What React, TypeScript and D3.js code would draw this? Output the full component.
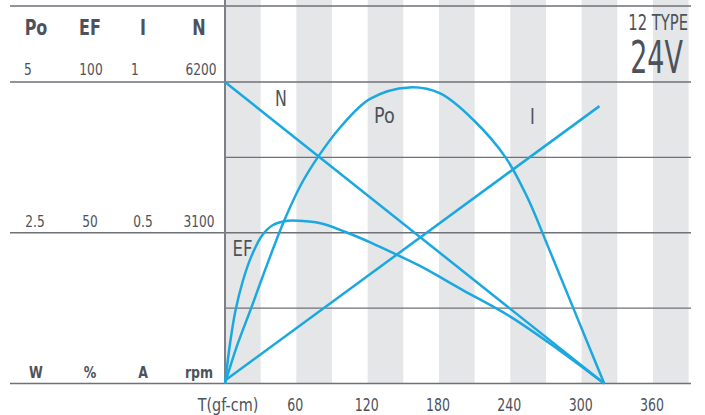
import * as d3 from "d3";
import type { ReactNode } from "react";

// torque (gf-cm) vs output power (W)
const poData: [number, number][] = [
  [0, 0], [10, 0.62], [22, 1.25], [35, 1.95], [50, 2.71], [64, 3.3], [78, 3.75],
  [97, 4.25], [122, 4.72], [155, 4.91], [181, 4.81], [209, 4.37], [236, 3.75],
  [254, 3.1], [273, 2.21], [293, 1.25], [319, 0],
];
// torque vs efficiency (%)
const efData: [number, number][] = [
  [0, 0], [4.5, 14], [8.7, 24], [15, 34], [22, 42], [31, 49], [40, 52.5], [53, 54],
  [68, 53.8], [82, 53], [103, 50], [124, 46.5], [143, 43], [164, 39], [200, 31],
  [240, 22.2], [280, 11.4], [319, 0],
];
// torque vs current (A)
const iData: [number, number][] = [[0, 0.01], [315, 0.92]];
// torque vs speed (rpm)
const nData: [number, number][] = [[0, 6200], [319, 0]];

const xTicks = [60, 120, 180, 240, 300, 360];
const headers = ["Po", "EF", "I", "N"];
const topValues = ["5", "100", "1", "6200"];
const midValues = ["2.5", "50", "0.5", "3100"];
const units = ["W", "%", "A", "rpm"];

const W = 705;
const H = 415;
const FONT = "'DejaVu Sans', sans-serif";
const TEXT = "#4d525a";
const GRID = "#6e7178";
const BAND = "#e5e6e8";
const CURVE = "#1ba8e0";

// narrow text: the original uses a condensed face, so squeeze horizontally
function Txt(props: {
  x: number;
  y: number;
  size: number;
  sx?: number;
  anchor?: "start" | "middle" | "end";
  bold?: boolean;
  children: ReactNode;
}) {
  const { x, y, size, sx = 0.74, anchor = "start", bold = false, children } = props;
  return (
    <text
      transform={`translate(${x},${y}) scale(${sx},1)`}
      textAnchor={anchor}
      fontSize={size}
      fontWeight={bold ? "bold" : "normal"}
      fill={TEXT}
    >
      {children}
    </text>
  );
}

export default function App() {
  const x = d3.scaleLinear().domain([0, 392]).range([225, 691]);
  const frac = d3.scaleLinear().domain([0, 1]).range([383.5, 82]);
  const yPo = d3.scaleLinear().domain([0, 5]).range(frac.range());
  const yEf = d3.scaleLinear().domain([0, 100]).range(frac.range());
  const yI = d3.scaleLinear().domain([0, 1]).range(frac.range());
  const yN = d3.scaleLinear().domain([0, 6200]).range(frac.range());

  const mk = (ys: d3.ScaleLinear<number, number>, curve: d3.CurveFactory) =>
    d3.line<[number, number]>().x((d) => x(d[0])).y((d) => ys(d[1])).curve(curve);

  const paths = [
    mk(yN, d3.curveLinear)(nData),
    mk(yI, d3.curveLinear)(iData),
    mk(yPo, d3.curveCatmullRom.alpha(0.5))(poData),
    mk(yEf, d3.curveCatmullRom.alpha(0.5))(efData),
  ];

  const bands = d3.range(0, 390, 60);
  const colCenters = [36, 90, 143, 199];
  const topCenters = [28, 91, 135, 201];

  return (
    <svg width={W} height={H} style={{ position: "absolute", left: 0, top: 0, fontFamily: FONT }}>
      <rect width={W} height={H} fill="#fff" />
      {bands.map((b) => (
        <rect key={b} x={x(b)} y={0} width={x(b + 30) - x(b)} height={frac(0)} fill={BAND} />
      ))}
      {/* grid */}
      <line x1={10} x2={691} y1={6} y2={6} stroke={GRID} strokeWidth={1.6} />
      {[0, 0.5, 1].map((f) => (
        <line key={f} x1={10} x2={691} y1={frac(f)} y2={frac(f)} stroke={GRID} strokeWidth={1.6} />
      ))}
      {[0.25, 0.75].map((f) => (
        <line key={f} x1={x(0)} x2={691} y1={frac(f)} y2={frac(f)} stroke={GRID} strokeWidth={1.4} />
      ))}
      <line x1={x(0)} x2={x(0)} y1={0} y2={frac(0)} stroke="#7c7f85" strokeWidth={2} />

      {paths.map((p, i) => (
        <path key={i} d={p ?? ""} fill="none" stroke={CURVE} strokeWidth={2.5} />
      ))}

      {/* left value columns */}
      {headers.map((h, i) => (
        <Txt key={h} x={colCenters[i]} y={35} size={20.5} anchor="middle" bold sx={0.78}>{h}</Txt>
      ))}
      {topValues.map((v, i) => (
        <Txt key={v} x={topCenters[i]} y={75} size={16.5} anchor="middle">{v}</Txt>
      ))}
      {midValues.map((v, i) => (
        <Txt key={v} x={colCenters[i] - (i === 0 ? 1 : 0)} y={227} size={16.5} anchor="middle">{v}</Txt>
      ))}
      {units.map((u, i) => (
        <Txt key={u} x={colCenters[i]} y={378} size={16.5} anchor="middle" bold sx={0.76}>{u}</Txt>
      ))}

      {/* x axis labels */}
      <Txt x={x(0) + 3} y={411} size={18.5} anchor="middle" sx={0.78}>T(gf-cm)</Txt>
      {xTicks.map((t) => (
        <Txt key={t} x={x(t) - 1} y={411} size={18.5} anchor="middle" sx={0.68}>{t}</Txt>
      ))}

      {/* curve labels */}
      <Txt x={275} y={106} size={22} sx={0.72}>N</Txt>
      <Txt x={374} y={122.5} size={22} sx={0.8}>Po</Txt>
      <Txt x={530} y={124} size={22}>I</Txt>
      <Txt x={232.5} y={255.5} size={22} sx={0.75}>EF</Txt>

      <Txt x={688} y={29.5} size={20.5} anchor="end" sx={0.72}>12 TYPE</Txt>
      <Txt x={683} y={73} size={45} anchor="end" sx={0.6}>24V</Txt>
    </svg>
  );
}
